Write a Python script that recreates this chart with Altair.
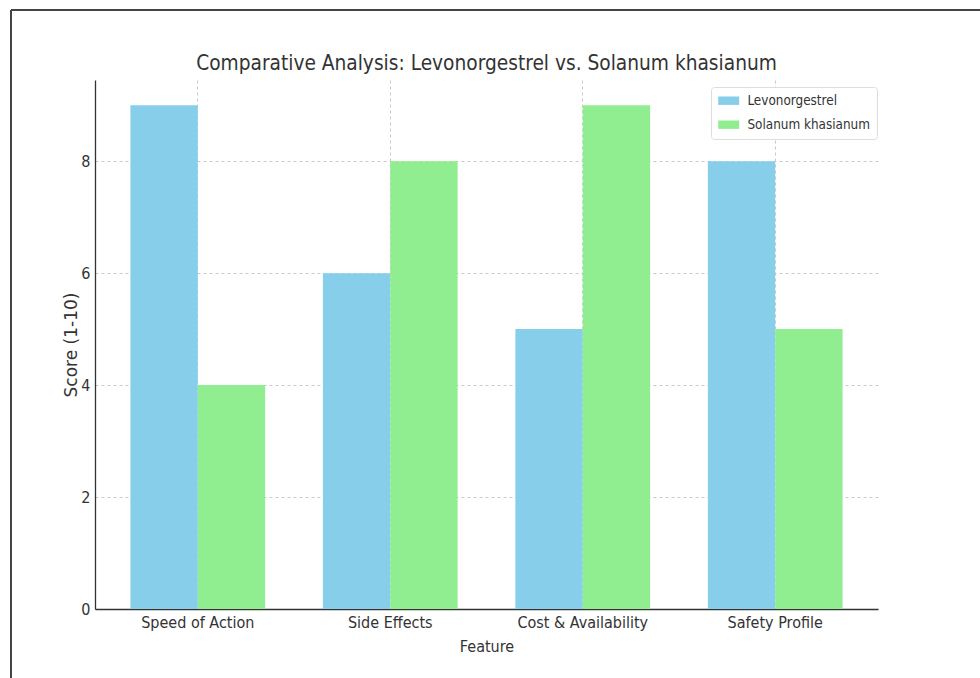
import altair as alt
import pandas as pd

features = ["Speed of Action", "Side Effects", "Cost & Availability", "Safety Profile"]
series = ["Levonorgestrel", "Solanum khasianum"]
levonorgestrel = [9, 6, 5, 8]
solanum = [4, 8, 9, 5]
colors = ["#87CEEB", "#90EE90"]
y_ticks = [0, 2, 4, 6, 8]

rows = []
for f, a, b in zip(features, levonorgestrel, solanum):
    rows.append({"Feature": f, "Series": series[0], "Score": a})
    rows.append({"Feature": f, "Series": series[1], "Score": b})
df = pd.DataFrame(rows)

FONT = "DejaVu Sans Condensed"
TXT = "#333333"

bars = alt.Chart(df).mark_bar().encode(
    x=alt.X("Feature:N", sort=features,
            scale=alt.Scale(paddingInner=0.3, paddingOuter=0.184),
            axis=alt.Axis(title="Feature", labelAngle=0, ticks=False, labelPadding=5,
                          labelFontSize=16, titleFontSize=16, titlePadding=8,
                          titleFontWeight="normal",
                          grid=True, gridDash=[3, 3], gridColor="#bbbbbb", gridOpacity=0.8,
                          labelFont=FONT, titleFont=FONT, labelColor=TXT, titleColor=TXT,
                          domainColor="#333333", domainWidth=1.3)),
    xOffset=alt.XOffset("Series:N", sort=series,
                        scale=alt.Scale(paddingInner=0, paddingOuter=0)),
    y=alt.Y("Score:Q", scale=alt.Scale(domain=[0, 9.45], nice=False),
            axis=alt.Axis(title="Score (1-10)", values=y_ticks, ticks=False, labelPadding=5,
                          labelFontSize=16, titleFontSize=17, titlePadding=0,
                          titleFontWeight="normal",
                          grid=True, gridDash=[3, 3], gridColor="#bbbbbb", gridOpacity=0.8,
                          labelFont=FONT, titleFont="DejaVu Sans",
                          labelColor=TXT, titleColor=TXT,
                          domainColor="#333333", domainWidth=1.3)),
    color=alt.Color("Series:N", scale=alt.Scale(domain=series, range=colors),
                    legend=alt.Legend(title=None, orient="none", legendX=616, legendY=7,
                                      symbolType="M-2,-0.8H2V0.8H-2Z", symbolSize=110,
                                      symbolStrokeWidth=0, symbolOffset=4,
                                      labelFontSize=13.4, labelFont=FONT,
                                      labelColor=TXT, rowPadding=9, padding=7,
                                      strokeColor="#dddddd", fillColor="white",
                                      cornerRadius=3, labelOffset=12)),
)

one = pd.DataFrame({"a": [0]})
frame_color = "#444444"
left_border = alt.Chart(one).mark_rule(clip=False, color=frame_color, strokeWidth=2).encode(
    x=alt.value(-84), y=alt.value(-70), y2=alt.value(600))
top_border = alt.Chart(one).mark_rule(clip=False, color=frame_color, strokeWidth=2).encode(
    x=alt.value(-84), x2=alt.value(890), y=alt.value(-70))

chart = alt.layer(bars, left_border, top_border).properties(
    width=783, height=529,
    title=alt.TitleParams("Comparative Analysis: Levonorgestrel vs. Solanum khasianum",
                          fontSize=20.7, font=FONT, color=TXT, fontWeight="normal",
                          anchor="middle", frame="group", offset=0, dy=66),
    autosize=alt.AutoSizeParams(type="none"),
    padding={"left": 95, "top": 80, "right": 102, "bottom": 69},
    background="white",
).configure_view(stroke=None)

chart.save("out.html", embed_options={"renderer": "svg", "actions": False})
